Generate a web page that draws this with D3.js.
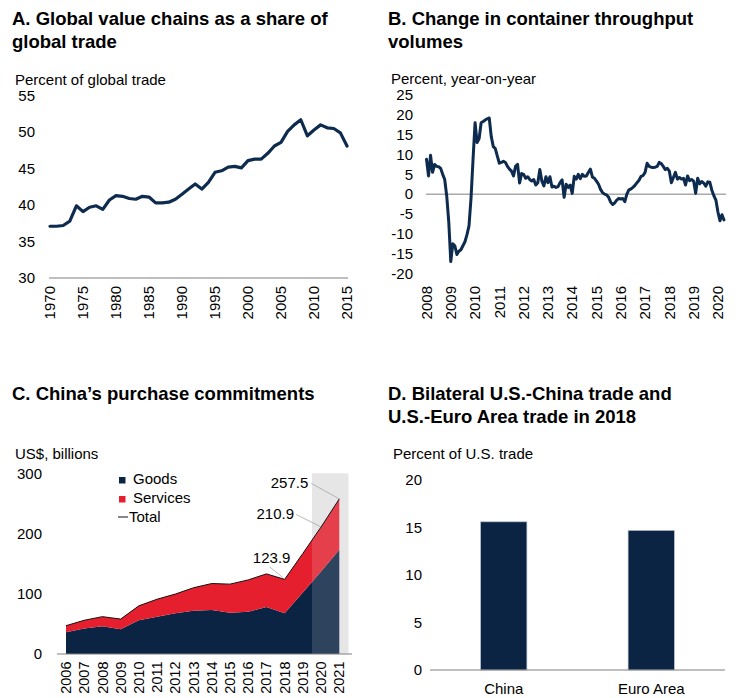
<!DOCTYPE html>
<html>
<head>
<meta charset="utf-8">
<script src="https://cdn.jsdelivr.net/npm/d3@7"></script>
<style>
  html, body { margin: 0; padding: 0; background: #fff; }
  svg { display: block; font-family: "Liberation Sans", Arial, Helvetica, sans-serif; }
</style>
</head>
<body>
<svg id="chart" width="736" height="698"></svg>
<script>
// ---------- Panel A: global value chains ----------
const gvcYears = [1970,1971,1972,1973,1974,1975,1976,1977,1978,1979,
                  1980,1981,1982,1983,1984,1985,1986,1987,1988,1989,
                  1990,1991,1992,1993,1994,1995,1996,1997,1998,1999,
                  2000,2001,2002,2003,2004,2005,2006,2007,2008,2009,
                  2010,2011,2012,2013,2014,2015];
const gvcShare = [37.1,37.1,37.2,37.8,39.9,39.1,39.7,39.9,39.4,40.7,
                  41.3,41.2,40.9,40.8,41.2,41.1,40.3,40.3,40.4,40.8,
                  41.5,42.2,42.9,42.2,43.1,44.5,44.7,45.2,45.3,45.1,
                  46.1,46.3,46.3,47.1,48.1,48.6,50.1,51.0,51.7,49.5,
                  50.3,51.0,50.6,50.5,49.9,48.1];
const gvcTicksY = [30,35,40,45,50,55];
const gvcTicksX = [1970,1975,1980,1985,1990,1995,2000,2005,2010,2015];

// ---------- Panel B: container throughput, monthly from Jan 2008 ----------
const throughputStartYear = 2008;
const throughputYoY = [
  8.8, 4.6, 9.8, 5.5, 7.5, 7.0, 6.9, 6.5, 5.0, 3.7, -0.5, -7.0,        // 2008
  -17.0, -12.5, -13.0, -15.2, -14.4, -14.0, -13.0, -12.0, -10.2, -8.0, -1.0, 8.8, // 2009
  18.0, 13.0, 14.0, 18.0, 18.3, 18.7, 19.0, 19.2, 14.5, 12.0, 11.5, 9.6, // 2010
  7.8, 8.0, 8.3, 8.0, 7.0, 6.3, 5.8, 4.6, 7.0, 7.5, 2.8, 5.2,          // 2011
  5.0, 4.0, 4.4, 3.7, 3.3, 3.7, 2.3, 2.9, 6.2, 3.3, 2.1, 4.4,          // 2012
  2.9, 4.4, 1.8, 2.0, 1.7, 1.9, 2.9, 3.6, -0.8, 2.5, 1.7, 2.3,         // 2013
  0.2, 4.5, 3.8, 5.0, 3.9, 5.0, 4.5, 4.6, 5.5, 6.3, 4.3, 4.0,          // 2014
  3.3, 2.5, 1.2, 0.4, 0.0, -0.2, -0.8, -2.0, -2.6, -2.2, -1.5, -1.1,   // 2015
  -1.2, -1.1, -1.9, 0.0, 1.1, 1.3, 1.7, 2.2, 2.9, 3.5, 4.5, 4.7,       // 2016
  5.5, 7.8, 7.0, 6.8, 6.7, 6.8, 7.0, 8.0, 7.7, 7.0, 6.2, 6.5,          // 2017
  5.8, 2.9, 4.2, 5.5, 3.8, 4.2, 3.8, 4.0, 2.3, 4.6, 3.4, 3.7,          // 2018
  3.3, 0.2, 4.0, 2.6, 3.2, 2.8, 2.0, 3.1, 3.0, 1.0, -0.4, -1.5,        // 2019
  -4.5, -6.7, -5.2, -6.5                                               // 2020
];
const throughputTicksY = [-20,-15,-10,-5,0,5,10,15,20,25];
const throughputTicksX = [2008,2009,2010,2011,2012,2013,2014,2015,2016,2017,2018,2019,2020];

// ---------- Panel C: purchase commitments ----------
const commitYears = [2006,2007,2008,2009,2010,2011,2012,2013,2014,2015,2016,2017,2018,2019,2020,2021];
const commitGoods = [36,42.5,46,41,56,62,67.5,72,73,68.5,70,78,67.5,102,137,173];
const commitTotal = [47,56,62,58,80,91,99.5,110,117,116,123,133,123.9,167,210.9,257.5];
const commitLabelYears = [2018, 2020, 2021];
const commitProjectionYears = [2020, 2021];
const commitTicksY = [0,100,200,300];
const commitSeries = ["Goods", "Services"];

// ---------- Panel D: bilateral trade ----------
const tradePartners = ["China", "Euro Area"];
const tradeShare = [15.6, 14.7];
const tradeTicksY = [0,5,10,15,20];

// ---------- styling ----------
const NAVY = "#0b2444";
const LINE_NAVY = "#0d2b4e";
const RED = "#e61f2f";
const AXIS_GREY = "#7f7f7f";
const TICK_FONT = 15;

const svg = d3.select("#chart");
svg.append("rect").attr("width", 736).attr("height", 698).attr("fill", "#fff");

function title(x, y, lines) {
  const t = svg.append("text").attr("x", x).attr("y", y)
    .attr("font-size", 18.5).attr("font-weight", "bold").attr("fill", "#000");
  lines.forEach((s, i) => t.append("tspan").attr("x", x).attr("dy", i === 0 ? 0 : 22.5).text(s));
}
function unitLabel(x, y, s) {
  svg.append("text").attr("x", x).attr("y", y).attr("font-size", TICK_FONT).attr("fill", "#000").text(s);
}
function yTicks(g, scale, ticks, xRight, fmt) {
  g.selectAll(null).data(ticks).join("text")
    .attr("x", xRight).attr("y", d => scale(d)).attr("dy", "0.35em")
    .attr("text-anchor", "end").attr("font-size", TICK_FONT).attr("fill", "#000")
    .text(d => fmt ? fmt(d) : d);
}
function xTicksRotated(g, scale, ticks, yTop, size) {
  g.selectAll(null).data(ticks).join("text")
    .attr("transform", d => `translate(${scale(d)},${yTop}) rotate(-90)`)
    .attr("dy", "0.35em").attr("text-anchor", "end")
    .attr("font-size", size || TICK_FONT).attr("fill", "#000")
    .text(d => d);
}

// ================= Panel A =================
{
  title(12, 25, ["A. Global value chains as a share of", "global trade"]);
  unitLabel(15, 85, "Percent of global trade");
  const g = svg.append("g");
  const x = d3.scaleLinear().domain([1970, 2015]).range([50, 347]);
  const y = d3.scaleLinear().domain([30, 55]).range([278, 95.7]);
  yTicks(g, y, gvcTicksY, 35);
  g.append("line").attr("x1", 49).attr("x2", 348).attr("y1", y(30)).attr("y2", y(30))
    .attr("stroke", AXIS_GREY).attr("stroke-width", 1);
  xTicksRotated(g, x, gvcTicksX, 286);
  const line = d3.line().x((d, i) => x(gvcYears[i])).y(d => y(d)).curve(d3.curveLinear);
  g.append("path").datum(gvcShare).attr("d", line)
    .attr("fill", "none").attr("stroke", LINE_NAVY).attr("stroke-width", 3.2)
    .attr("stroke-linejoin", "round").attr("stroke-linecap", "round");
}

// ================= Panel B =================
{
  title(388, 25, ["B. Change in container throughput", "volumes"]);
  unitLabel(391, 84, "Percent, year-on-year");
  const g = svg.append("g");
  const lastT = throughputStartYear + (throughputYoY.length - 1) / 12;
  const x = d3.scaleLinear().domain([throughputStartYear, lastT]).range([426.5, 724]);
  const y = d3.scaleLinear().domain([-20, 25]).range([273.5, 95]);
  yTicks(g, y, throughputTicksY, 413);
  g.append("line").attr("x1", 426).attr("x2", 726).attr("y1", y(0)).attr("y2", y(0))
    .attr("stroke", AXIS_GREY).attr("stroke-width", 1);
  xTicksRotated(g, x, throughputTicksX, 286);
  const line = d3.line().x((d, i) => x(throughputStartYear + i / 12)).y(d => y(d));
  g.append("path").datum(throughputYoY).attr("d", line)
    .attr("fill", "none").attr("stroke", LINE_NAVY).attr("stroke-width", 3)
    .attr("stroke-linejoin", "round").attr("stroke-linecap", "round");
}

// ================= Panel C =================
{
  title(12, 400, ["C. China\u2019s purchase commitments"]);
  unitLabel(15, 459, "US$, billions");
  const g = svg.append("g");
  const x = d3.scaleLinear().domain([2006, 2021]).range([66, 339.3]);
  const y = d3.scaleLinear().domain([0, 300]).range([654, 473.3]);

  const rows = commitYears.map((yr, i) => ({ year: yr, Goods: commitGoods[i], Services: commitTotal[i] - commitGoods[i] }));
  const stacked = d3.stack().keys(commitSeries)(rows);
  const color = d3.scaleOrdinal().domain(commitSeries).range([NAVY, RED]);

  const shadeX0 = x(d3.min(commitProjectionYears) - 0.5);
  const shadeX1 = x(d3.max(commitProjectionYears) + 0.5);
  g.append("rect").attr("x", shadeX0).attr("width", shadeX1 - shadeX0)
    .attr("y", y(300)).attr("height", y(0) - y(300)).attr("fill", "#e6e6e6");

  yTicks(g, y, commitTicksY, 42);

  const area = d3.area().x(d => x(d.data.year)).y0(d => y(d[0])).y1(d => y(d[1]));
  g.selectAll(null).data(stacked).join("path")
    .attr("d", area).attr("fill", d => color(d.key));

  // lighter tint over the projected years
  g.append("rect").attr("x", shadeX0).attr("width", shadeX1 - shadeX0)
    .attr("y", y(300)).attr("height", y(0) - y(300)).attr("fill", "#e6e6e6").attr("opacity", 0.16);

  const totalLine = d3.line().x((d, i) => x(commitYears[i])).y(d => y(d));
  g.append("path").datum(commitTotal).attr("d", totalLine)
    .attr("fill", "none").attr("stroke", "#111").attr("stroke-width", 1);

  g.append("line").attr("x1", 57).attr("x2", 352).attr("y1", y(0)).attr("y2", y(0))
    .attr("stroke", AXIS_GREY).attr("stroke-width", 1);
  xTicksRotated(g, x, commitYears, 661.5, 14.5);

  // value call-outs on the total
  const callout = {
    2018: { tx: -13, ty: -16, anchor: "middle", lx: -15, ly: -12.5, ex: -2, ey: -2 },
    2020: { tx: -27, ty: -7.5, anchor: "end", lx: -25, ly: -12.5, ex: 0, ey: 0 },
    2021: { tx: -31, ty: -10.5, anchor: "end", lx: -28, ly: -15.5, ex: 0, ey: 0 }
  };
  commitLabelYears.forEach(yr => {
    const v = commitTotal[commitYears.indexOf(yr)];
    const px = x(yr), py = y(v), c = callout[yr];
    g.append("line").attr("x1", px + c.lx).attr("y1", py + c.ly).attr("x2", px + c.ex).attr("y2", py + c.ey)
      .attr("stroke", "#a6a6a6").attr("stroke-width", 0.8);
    g.append("text").attr("x", px + c.tx).attr("y", py + c.ty).attr("text-anchor", c.anchor)
      .attr("font-size", TICK_FONT).attr("fill", "#000").text(v.toFixed(1));
  });

  // legend
  const lg = g.append("g");
  commitSeries.forEach((k, i) => {
    lg.append("rect").attr("x", 119).attr("y", 477 + i * 19).attr("width", 6.5).attr("height", 6.5).attr("fill", color(k));
    lg.append("text").attr("x", 133).attr("y", 483.5 + i * 19).attr("font-size", TICK_FONT).attr("fill", "#000").text(k);
  });
  lg.append("line").attr("x1", 118).attr("x2", 128).attr("y1", 517).attr("y2", 517).attr("stroke", "#111").attr("stroke-width", 1);
  lg.append("text").attr("x", 129).attr("y", 522).attr("font-size", TICK_FONT).attr("fill", "#000").text("Total");
}

// ================= Panel D =================
{
  title(388, 400, ["D. Bilateral U.S.-China trade and", "U.S.-Euro Area trade in 2018"]);
  unitLabel(393, 459, "Percent of U.S. trade");
  const g = svg.append("g");
  const x = d3.scaleBand().domain(tradePartners).range([430, 725]).paddingInner(0.686).paddingOuter(0.343);
  const y = d3.scaleLinear().domain([0, 20]).range([670, 480]);
  yTicks(g, y, tradeTicksY, 422);
  g.selectAll(null).data(tradeShare).join("rect")
    .attr("x", (d, i) => x(tradePartners[i])).attr("width", x.bandwidth())
    .attr("y", d => y(d)).attr("height", d => y(0) - y(d))
    .attr("fill", NAVY).attr("stroke", "#b9c3d0").attr("stroke-width", 0.7);
  g.append("line").attr("x1", 430).attr("x2", 725).attr("y1", y(0)).attr("y2", y(0))
    .attr("stroke", AXIS_GREY).attr("stroke-width", 1);
  g.selectAll(null).data(tradePartners).join("text")
    .attr("x", d => x(d) + x.bandwidth() / 2).attr("y", 693.5)
    .attr("text-anchor", "middle").attr("font-size", TICK_FONT).attr("fill", "#000").text(d => d);
}
</script>
</body>
</html>
